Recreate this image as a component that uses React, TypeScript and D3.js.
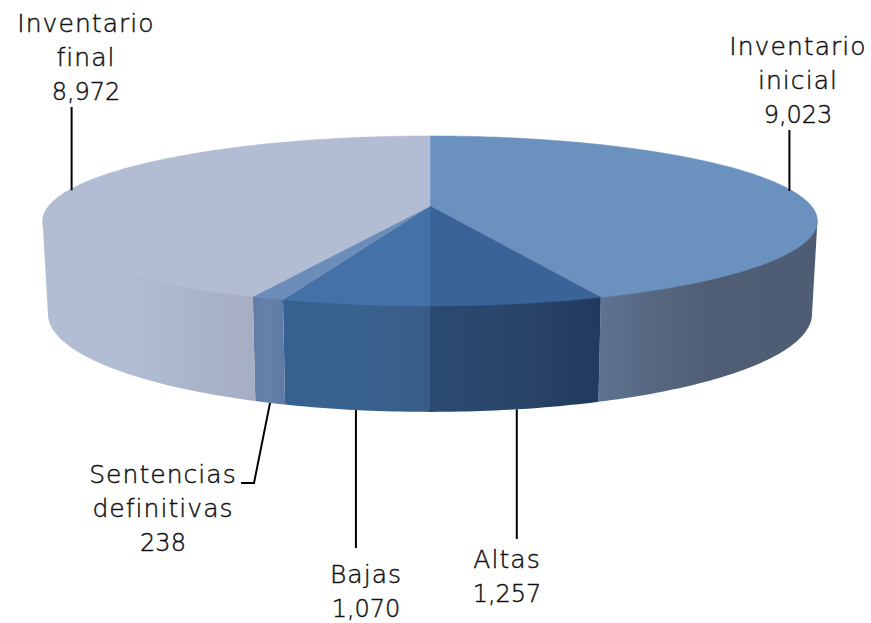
import React from "react";
import * as d3 from "d3";

const W = 871, H = 623;
const names = ["Inventario inicial", "Altas", "Bajas", "Sentencias definitivas", "Inventario final"];
const values = [9023, 1257, 1070, 238, 8972];
const labelLines = [["Inventario", "inicial"], ["Altas"], ["Bajas"], ["Sentencias", "definitivas"], ["Inventario", "final"]];
const labelX = [798, 507, 366, 163, 86];
const labelY = [55, 568, 583, 483, 32];
const leaderEnd: [number, number][][] = [[[0, 130]], [[0, 539]], [[0, 548]], [[254, 483], [241, 483]], [[0, 107]]];
const leaderOnTop = [true, false, false, false, true];
const topColors = ["#6b92bf", "#3a6398", "#4472a8", "#6c8db9", "#b2bdd3"];
const sideStops: [number, string][][] = [
  [[0, "#5e7391"], [0.25, "#56677f"], [0.5, "#4f5e75"], [1, "#4e5d74"]],
  [[0, "#2b4a72"], [0.5, "#294569"], [1, "#213a5e"]],
  [[0, "#35608f"], [0.5, "#3a628f"], [1, "#385c86"]],
  [[0, "#5f7ba6"], [0.5, "#6580ab"], [1, "#5f7aa3"]],
  [[0, "#b2bdd3"], [0.4, "#b2bcd2"], [0.7, "#abb5ca"], [1, "#a5aec2"]],
];

const cx = 430, cy = 206, k = 0.176, Rx = 381.4, Ry = 82.4;
const botCy = 296.6, botRy = 95, botScale = 0.986;

function project(theta: number, r = 1, bottom = false): [number, number] {
  const s = 1 / (1 + k * r * Math.cos(theta));
  const f = bottom ? botScale : 1;
  return [cx + f * Rx * r * Math.sin(theta) * s, (bottom ? botCy : cy) - (bottom ? botRy : Ry) * r * Math.cos(theta) * s];
}

const pieGen = d3.pie<number>().sort(null).value((d) => d);
const arcs = pieGen(values);
const line = d3.line();
const fmt = d3.format(",");

function sample(a: number, b: number, bottom = false, r = 1) {
  const n = Math.max(2, Math.ceil(Math.abs(b - a) * 60));
  return d3.range(n + 1).map((i) => project(a + ((b - a) * i) / n, r, bottom));
}

export default function App() {
  const frontA = Math.acos(-k), frontB = 2 * Math.PI - Math.acos(-k);
  const font = "'DejaVu Sans', sans-serif";
  return (
    <svg width={W} height={H} style={{ position: "absolute", left: 0, top: 0, display: "block", background: "#fff" }}>
      <defs>
        {arcs.map((a, i) => {
          const s = Math.max(a.startAngle, frontA), e = Math.min(a.endAngle, frontB);
          const x1 = project(s)[0], x2 = project(e)[0];
          return (
            <linearGradient key={i} id={`side${i}`} gradientUnits="userSpaceOnUse" x1={Math.min(x1, x2)} x2={Math.max(x1, x2)} y1={0} y2={0}>
              {sideStops[i].map(([o, c], j) => (
                <stop key={j} offset={o} stopColor={c} />
              ))}
            </linearGradient>
          );
        })}
      </defs>
      {arcs.map((a, i) => {
        const s = Math.max(a.startAngle, frontA), e = Math.min(a.endAngle, frontB);
        if (e <= s) return null;
        const pts = [project(s), ...sample(s, e, false, 0.97), project(e), ...sample(e, s, true)];
        return <path key={i} d={line(pts) + "Z"} fill={`url(#side${i})`} />;
      })}
      {arcs.map((a, i) => (
        <path key={i} d={line([[cx, cy], ...sample(a.startAngle, a.endAngle)]) + "Z"} fill={topColors[i]} stroke={topColors[i]} strokeWidth={0.5} />
      ))}
      {arcs.map((a, i) => {
        const mid = (a.startAngle + a.endAngle) / 2;
        const p = project(mid, leaderOnTop[i] ? 0.992 : 1, !leaderOnTop[i]);
        const pts = leaderEnd[i].map(([x, y]) => [x === 0 ? p[0] : x, y] as [number, number]);
        return <path key={i} d={line([p, ...pts]) ?? ""} fill="none" stroke="#000" strokeWidth={2} />;
      })}
      {arcs.map((a, i) => (
        <text key={i} fontFamily={font} fontWeight={200} fill="#111" stroke="#111" strokeWidth={0.45} textAnchor="middle" aria-label={names[i]}>
          {[...labelLines[i], fmt(values[i])].map((t, j) => {
            const isWord = j < labelLines[i].length;
            return (
              <tspan key={j} x={labelX[i]} y={labelY[i] + j * 34} fontSize={isWord ? 25 : 24} letterSpacing={isWord ? 1.05 : 0}>{t}</tspan>
            );
          })}
        </text>
      ))}
    </svg>
  );
}
